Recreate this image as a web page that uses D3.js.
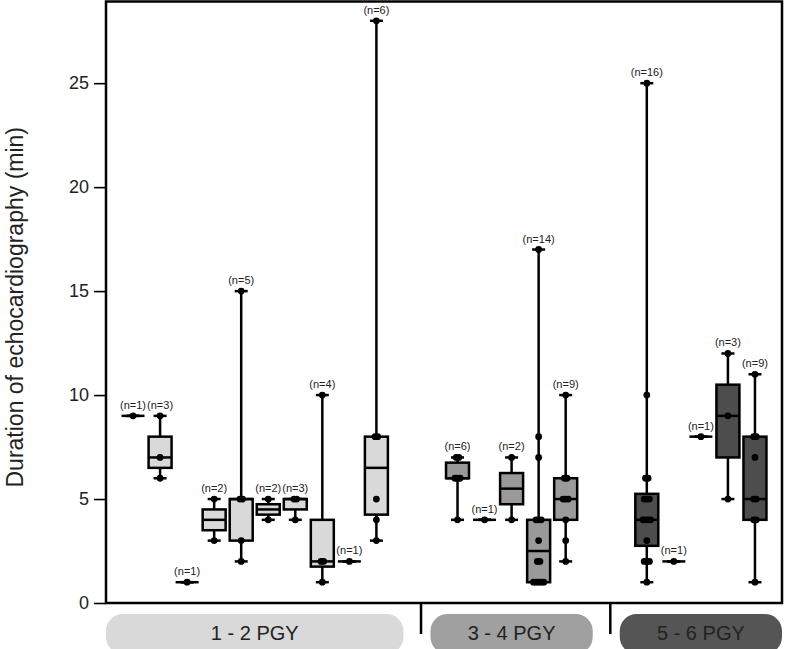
<!DOCTYPE html>
<html>
<head>
<meta charset="utf-8">
<script src="https://cdn.jsdelivr.net/npm/d3@7"></script>
<style>
  body { margin: 0; background: #fff; }
  svg text { font-family: "Liberation Sans", Arial, sans-serif; }
</style>
</head>
<body>
<svg id="chart" width="785" height="649"></svg>
<script>
// groups shown in the pills under the plot
var groups = ['1 - 2 PGY', '3 - 4 PGY', '5 - 6 PGY'];
var groupFill = ['#d9d9d9', '#9a9a9a', '#4d4d4d'];
var pillFill = ['#d9d9d9', '#a0a0a0', '#555555'];

// which group each box belongs to
var boxGroup = [0, 0, 0, 0, 0, 0, 0, 0, 0, 0, 1, 1, 1, 1, 1, 2, 2, 2, 2, 2];

// raw durations (min) behind each box
var boxValues = [
    [9],
    [6, 7, 9],
    [1],
    [3, 5],
    [2, 3, 5, 5, 15],
    [4, 5],
    [4, 5, 5],
    [1, 2, 2, 10],
    [2],
    [3, 4, 5, 8, 8, 28],
    [4, 6, 6, 6, 7, 7],
    [4],
    [4, 7],
    [1, 1, 1, 1, 1, 2, 2, 3, 4, 4, 4, 7, 8, 17],
    [2, 3, 4, 5, 5, 5, 6, 6, 10],
    [1, 2, 2, 2, 3, 4, 4, 4, 4, 5, 5, 5, 6, 6, 10, 25],
    [2],
    [8],
    [5, 9, 12],
    [1, 4, 4, 5, 5, 7, 8, 8, 11]
];

var yTicks = [0, 5, 10, 15, 20, 25];
var yTitle = 'Duration of echocardiography (min)';

var svg = d3.select('#chart');
// note: "top" is taken by window.top, so use plot* names
var plotL = 106, plotR = 782, plotT = 1.5, plotB = 603;

// two empty slots between groups
var slot = boxGroup.map((g, i) => i + 2 * g);

var x = d3.scaleLinear().domain([-1, 24]).range([plotL, plotR]);
var y = d3.scaleLinear().domain([0, 29]).range([plotB, 0]);

var step = x(1) - x(0);
var boxW = step * 0.85;
var capW = step * 0.48;

// y axis
var yAxis = svg.append('g')
    .attr('transform', 'translate(' + plotL + ',0)')
    .call(d3.axisLeft(y).tickValues(yTicks).tickSize(12).tickPadding(5));
yAxis.select('.domain').remove();
yAxis.selectAll('line').attr('stroke', '#000').attr('stroke-width', 1.6);
yAxis.selectAll('text').attr('font-size', 18).attr('fill', '#222')
    .attr('font-family', '"Liberation Sans", Arial, sans-serif');

svg.append('text')
    .attr('transform', 'translate(15,' + ((plotT + plotB) / 2 + 5) + ') rotate(-90)')
    .attr('text-anchor', 'middle')
    .attr('dominant-baseline', 'central')
    .attr('font-size', 23)
    .attr('fill', '#222')
    .text(yTitle);

// boxes
var stats = boxValues.map(function(v, i) {
    var s = v.slice().sort(d3.ascending);
    return {
        i: i,
        xc: x(slot[i]),
        fill: groupFill[boxGroup[i]],
        vals: s,
        min: s[0],
        q1: d3.quantile(s, 0.25),
        med: d3.quantile(s, 0.5),
        q3: d3.quantile(s, 0.75),
        max: s[s.length - 1],
        n: s.length
    };
});

var box = svg.selectAll('g.box').data(stats).enter().append('g').attr('class', 'box');

box.append('line')
    .attr('x1', d => d.xc).attr('x2', d => d.xc)
    .attr('y1', d => y(d.max)).attr('y2', d => y(d.min))
    .attr('stroke', '#000').attr('stroke-width', 2.5);

box.selectAll('line.cap')
    .data(d => [d.min, d.max].map(v => ({ xc: d.xc, v: v })))
    .enter().append('line').attr('class', 'cap')
    .attr('x1', d => d.xc - capW / 2).attr('x2', d => d.xc + capW / 2)
    .attr('y1', d => y(d.v)).attr('y2', d => y(d.v))
    .attr('stroke', '#000').attr('stroke-width', 2.5);

box.append('rect')
    .attr('x', d => d.xc - boxW / 2)
    .attr('width', boxW)
    .attr('y', d => y(d.q3))
    .attr('height', d => y(d.q1) - y(d.q3))
    .attr('fill', d => d.fill)
    .attr('stroke', '#000').attr('stroke-width', 2.5);

box.append('line')
    .attr('x1', d => d.xc - boxW / 2).attr('x2', d => d.xc + boxW / 2)
    .attr('y1', d => y(d.med)).attr('y2', d => y(d.med))
    .attr('stroke', '#000').attr('stroke-width', 2.5);

// points, ties nudged sideways
box.selectAll('circle')
    .data(function(d) {
        var counts = d3.rollup(d.vals, v => v.length, v => v);
        var seen = new Map();
        return d.vals.map(function(v) {
            var k = counts.get(v), j = seen.get(v) || 0;
            seen.set(v, j + 1);
            return { x: d.xc + (j - (k - 1) / 2) * 2.6, v: v };
        });
    })
    .enter().append('circle')
    .attr('cx', d => d.x).attr('cy', d => y(d.v))
    .attr('r', 3.4).attr('fill', '#000');

box.append('text')
    .attr('x', d => d.xc)
    .attr('y', d => y(d.max) - 7)
    .attr('text-anchor', 'middle')
    .attr('font-size', 11)
    .attr('fill', '#222')
    .text(d => '(n=' + d.n + ')');

// frame
svg.append('rect')
    .attr('x', plotL).attr('y', plotT)
    .attr('width', plotR - plotL).attr('height', plotB - plotT)
    .attr('fill', 'none').attr('stroke', '#000').attr('stroke-width', 2.5);

// group pills and separators
var gInfo = groups.map(function(g, k) {
    var s = slot.filter((d, i) => boxGroup[i] === k);
    return { name: g, k: k, a: x(d3.min(s) - 1), b: x(d3.max(s) + 1), last: d3.max(s) };
});

svg.selectAll('rect.pill').data(gInfo).enter().append('rect')
    .attr('class', 'pill')
    .attr('x', d => d.a).attr('y', 614)
    .attr('width', d => d.b - d.a).attr('height', 40)
    .attr('rx', 17).attr('ry', 17)
    .attr('fill', d => pillFill[d.k]);

svg.selectAll('text.pill').data(gInfo).enter().append('text')
    .attr('class', 'pill')
    .attr('x', d => (d.a + d.b) / 2).attr('y', 633)
    .attr('text-anchor', 'middle').attr('dominant-baseline', 'central')
    .attr('font-size', 20).attr('fill', '#222')
    .text(d => d.name);

svg.selectAll('line.sep').data(gInfo.slice(0, 2)).enter().append('line')
    .attr('class', 'sep')
    .attr('x1', d => x(d.last + 1.65)).attr('x2', d => x(d.last + 1.65))
    .attr('y1', plotB).attr('y2', 634)
    .attr('stroke', '#000').attr('stroke-width', 2.5);
</script>
</body>
</html>
